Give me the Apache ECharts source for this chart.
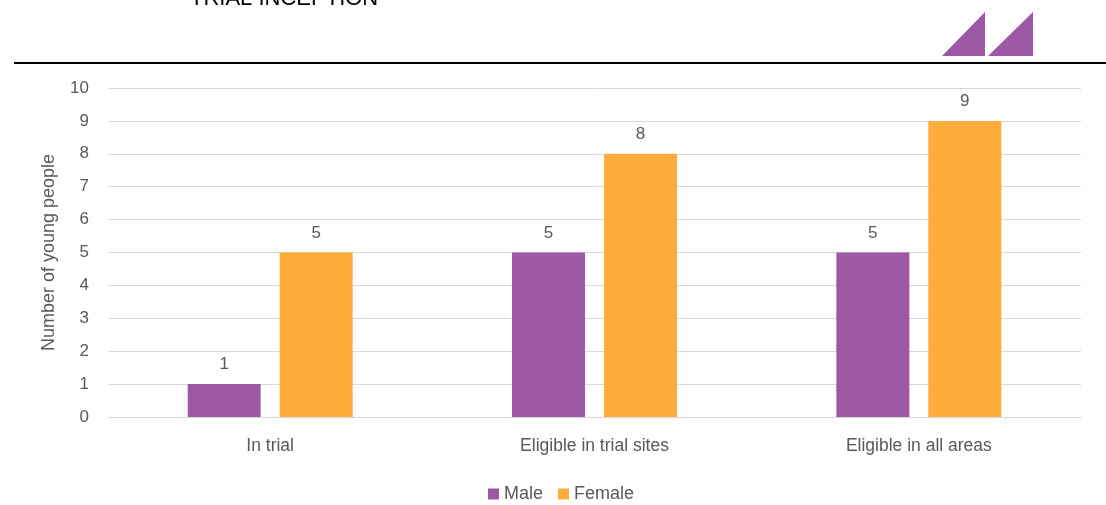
<!DOCTYPE html>
<html><head><meta charset="utf-8">
<script src="https://cdn.jsdelivr.net/npm/echarts@6/dist/echarts.min.js"></script>
<style>html,body{margin:0;padding:0;background:#fff}#c{width:1106px;height:505px}</style>
</head><body><div id="c"></div>
<script>
var categories = ['In trial', 'Eligible in trial sites', 'Eligible in all areas'];
var maleValues = [1, 5, 5];
var femaleValues = [5, 8, 9];
var seriesNames = ['Male', 'Female'];
var headerTitle = 'TRIAL INCEPTION';
var yAxisName = 'Number of young people';

var FONT = "'Liberation Sans', Arial, sans-serif";
var TXT = '#595959';
var chart = echarts.init(document.getElementById('c'), null, {renderer: 'canvas'});
var lbl = {show: true, position: 'top', color: TXT, fontSize: 17, fontFamily: FONT, distance: 11};
chart.setOption({
  animation: false,
  textStyle: {fontFamily: FONT},
  grid: {left: 108, right: 25, top: 88, bottom: 88, containLabel: false},
  legend: {
    bottom: -3, left: 483, itemWidth: 11, itemHeight: 11, itemGap: 15,
    icon: 'rect',
    textStyle: {color: TXT, fontSize: 18, fontFamily: FONT, padding: [0,0,0,0]},
    data: seriesNames
  },
  xAxis: {
    type: 'category', data: categories,
    axisLine: {lineStyle: {color: '#d9d9d9', width: 1}},
    axisTick: {show: false},
    axisLabel: {color: TXT, fontSize: 17.5, fontFamily: FONT, margin: 20}
  },
  yAxis: {
    type: 'value', min: 0, max: 10, interval: 1,
    name: yAxisName, nameLocation: 'middle', nameGap: 50, nameRotate: 90,
    nameTextStyle: {color: TXT, fontSize: 18, fontFamily: FONT},
    axisLine: {show: false}, axisTick: {show: false},
    axisLabel: {color: TXT, fontSize: 17, fontFamily: FONT, margin: 19},
    splitLine: {lineStyle: {color: '#d9d9d9', width: 1}}
  },
  series: [
    {name: seriesNames[0], type: 'bar', data: maleValues, barWidth: 73, barGap: '26%',
     itemStyle: {color: '#9c57a5'}, label: lbl},
    {name: seriesNames[1], type: 'bar', data: femaleValues, barWidth: 73,
     itemStyle: {color: '#feac3c'}, label: lbl}
  ],
  graphic: [
    {type: 'text', left: 190, top: -12, style: {text: headerTitle, fill: '#000', font: "22px 'Liberation Sans', Arial, sans-serif"}},
    {type: 'polygon', shape: {points: [[942,56],[985,56],[985,12]]}, style: {fill: '#9c57a5'}},
    {type: 'polygon', shape: {points: [[988,56],[1033,56],[1033,12]]}, style: {fill: '#9c57a5'}},
    {type: 'rect', shape: {x: 14, y: 62, width: 1092, height: 2}, style: {fill: '#000'}}
  ]
});
</script></body></html>
